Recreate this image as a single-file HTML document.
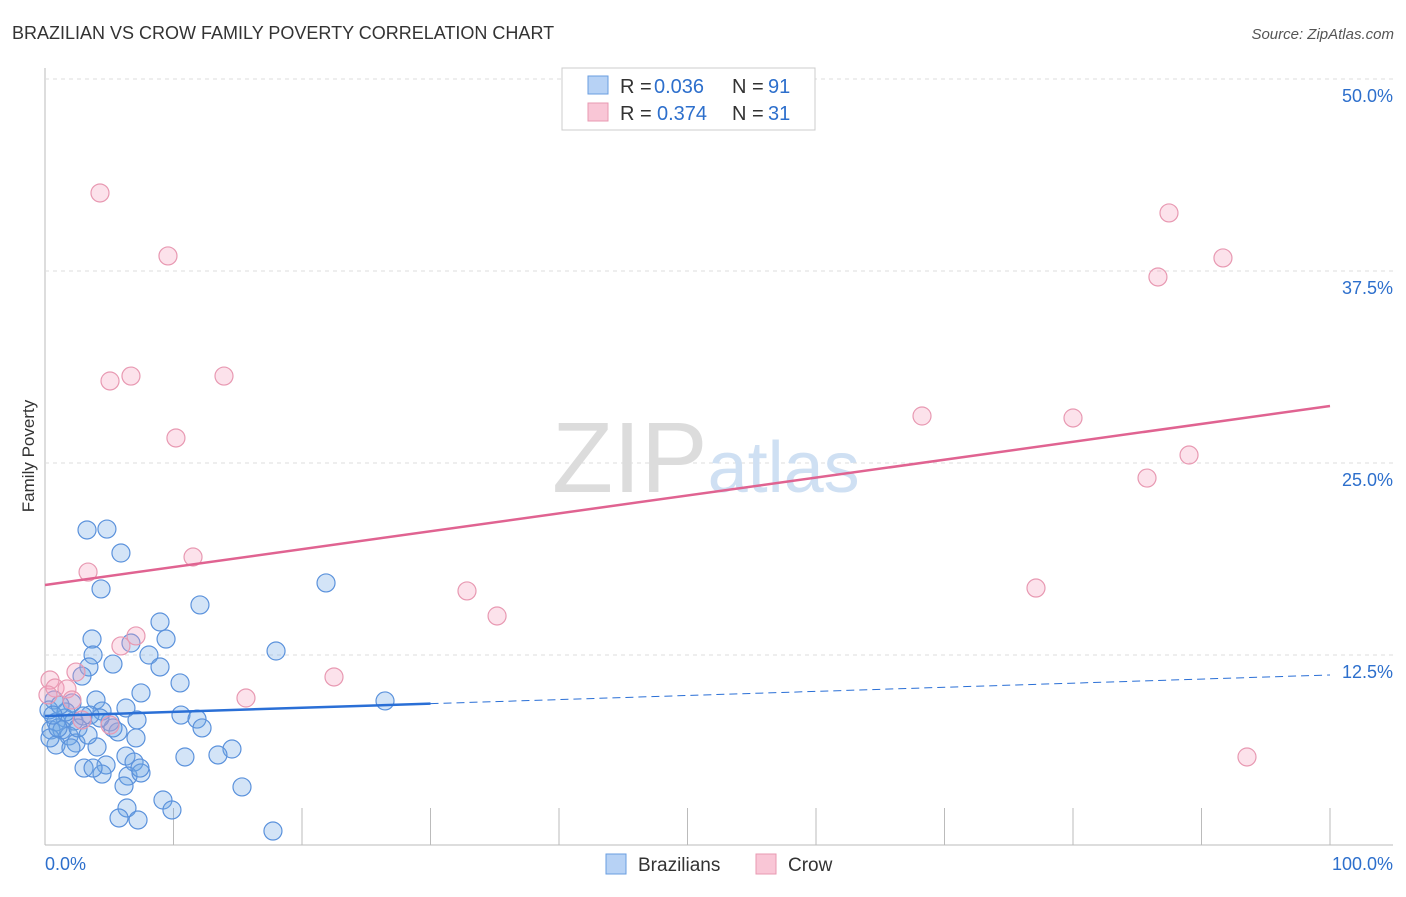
<!DOCTYPE html>
<html><head><meta charset="utf-8"><style>
body{margin:0;background:#fff;font-family:"Liberation Sans",sans-serif;}
svg text{font-family:"Liberation Sans",sans-serif;}
</style></head><body>
<svg width="1406" height="892" viewBox="0 0 1406 892">
<text x="12" y="39" font-size="18" fill="#333">BRAZILIAN VS CROW FAMILY POVERTY CORRELATION CHART</text>
<text x="1394" y="39" font-size="15" fill="#555" font-style="italic" text-anchor="end">Source: ZipAtlas.com</text>
<g id="grid"></g>
<text x="552" y="492" font-size="100" fill="#dcdcdc" font-family="Liberation Serif">ZIP<tspan fill="#cfe0f3" font-family="Liberation Sans" font-size="72">atlas</tspan></text>
<text x="34" y="456" font-size="17" fill="#333" text-anchor="middle" transform="rotate(-90 34 456)">Family Poverty</text>
<g id="marks"></g>
<g id="lines"></g>
<g>
<rect x="562" y="68" width="253" height="62" fill="#fff" stroke="#ccc"/>
<rect x="588" y="76" width="20" height="18" fill="#b7d2f5" stroke="#6a9ee0"/>
<rect x="588" y="103" width="20" height="18" fill="#f9c6d6" stroke="#e899b2"/>
<text x="620" y="93" font-size="20" fill="#333">R =</text>
<text x="654" y="93" font-size="20" fill="#2d6fcc">0.036</text>
<text x="732" y="93" font-size="20" fill="#333">N =</text>
<text x="768" y="93" font-size="20" fill="#2d6fcc">91</text>
<text x="620" y="120" font-size="20" fill="#333">R =</text>
<text x="657" y="120" font-size="20" fill="#2d6fcc">0.374</text>
<text x="732" y="120" font-size="20" fill="#333">N =</text>
<text x="768" y="120" font-size="20" fill="#2d6fcc">31</text>
</g>
<g>
<rect x="606" y="854" width="20" height="20" fill="#b7d2f5" stroke="#6a9ee0"/>
<text x="638" y="871" font-size="19" fill="#333">Brazilians</text>
<rect x="756" y="854" width="20" height="20" fill="#f9c6d6" stroke="#e899b2"/>
<text x="788" y="871" font-size="19" fill="#333">Crow</text>
</g>
</svg>
<script>
const yTicks=[12.5,25,37.5,50];
const yTickLabels=["12.5%","25.0%","37.5%","50.0%"];
const xLabels=["0.0%","100.0%"];
const braX=[3.27,4.82,5.91,4.36,21.87,12.06,8.95,3.66,9.42,6.69,3.74,8.09,17.98,3.42,5.29,8.95,2.88,10.51,7.47,26.46,3.97,2.10,0.70,6.30,4.44,10.58,11.83,3.50,1.56,0.86,7.16,5.06,2.26,2.96,0.47,1.32,5.68,12.22,1.87,7.08,0.86,2.41,4.05,14.55,6.30,10.89,13.46,6.93,3.04,4.75,4.44,6.46,7.47,3.74,6.15,15.33,9.18,9.88,6.38,5.76,7.24,17.74,0.31,0.39,1.01,1.63,2.57,3.35,2.02,5.29,4.28,7.39,1.17,0.62];
const braY=[20.64,20.70,19.14,16.80,17.19,15.76,14.65,13.54,13.54,13.28,12.50,12.50,12.76,11.72,11.91,11.72,11.13,10.68,10.03,9.51,9.57,9.38,9.57,9.05,8.85,8.59,8.33,8.59,8.40,8.14,8.27,8.14,8.20,8.53,7.62,7.62,7.49,7.75,7.23,7.10,6.64,6.77,6.51,6.38,5.92,5.86,5.99,5.53,5.14,5.34,4.75,4.62,4.82,5.14,3.97,3.91,3.06,2.41,2.54,1.89,1.76,1.04,8.92,7.10,7.75,8.79,7.75,7.29,6.45,7.75,8.40,5.14,9.24,8.59];
const crowX=[4.28,9.57,5.06,6.69,13.93,10.19,11.52,3.35,32.84,35.18,7.08,5.91,22.49,15.64,2.41,0.39,0.78,1.71,2.10,5.06,68.25,87.47,86.61,91.67,80.00,89.03,85.76,77.12,93.54,0.23,2.88];
const crowY=[42.58,38.48,30.34,30.66,30.66,26.63,18.88,17.90,16.67,15.04,13.74,13.09,11.07,9.70,11.39,10.87,10.35,10.29,9.57,7.94,28.06,41.28,37.11,38.35,27.93,25.52,24.02,16.86,5.86,9.90,8.27];
const braTrend=[8.53,11.2];
const crowTrend=[17.06,28.71];
const X=v=>45+v*12.85, Y=v=>847-v*15.36;
const NS="http://www.w3.org/2000/svg";
function mk(t,a,p){const e=document.createElementNS(NS,t);for(const k in a)e.setAttribute(k,a[k]);p.appendChild(e);return e;}
const grid=document.getElementById('grid');
mk('line',{x1:45,y1:68,x2:45,y2:845,stroke:'#bbb'},grid);
mk('line',{x1:45,y1:845,x2:1393,y2:845,stroke:'#bbb'},grid);
for(let i=0;i<=10;i++){const l=mk('line',{x1:X(i*10),y1:808,x2:X(i*10),y2:845,stroke:'#bbb'},grid);

}
yTicks.forEach((t,i)=>{const l=mk('line',{x1:45,y1:Y(t),x2:1393,y2:Y(t),stroke:'#ddd','stroke-dasharray':'4,4'},grid);


const tx=mk('text',{x:1393,y:Y(t)+23,'font-size':18,fill:'#2d6fcc','text-anchor':'end'},grid);tx.textContent=yTickLabels[i];

});
const a=mk('text',{x:45,y:870,'font-size':18,fill:'#2d6fcc'},grid);a.textContent=xLabels[0];


const b=mk('text',{x:1393,y:870,'font-size':18,fill:'#2d6fcc','text-anchor':'end'},grid);b.textContent=xLabels[1];


const marks=document.getElementById('marks');
braX.forEach((v,i)=>{const c=mk('circle',{cx:X(v),cy:Y(braY[i]),r:9,fill:'rgba(110,165,230,0.3)',stroke:'#5b92dc','stroke-width':1.2},marks);

});
crowX.forEach((v,i)=>{const c=mk('circle',{cx:X(v),cy:Y(crowY[i]),r:9,fill:'rgba(245,160,190,0.3)',stroke:'#e899b2','stroke-width':1.2},marks);

});
const lines=document.getElementById('lines');
const bt=v=>braTrend[0]+(braTrend[1]-braTrend[0])*v/100;
let l1=mk('line',{x1:X(0),y1:Y(bt(0)),x2:X(30),y2:Y(bt(30)),stroke:'#2a6fd6','stroke-width':2.5},lines);


let l2=mk('line',{x1:X(30),y1:Y(bt(30)),x2:X(100),y2:Y(bt(100)),stroke:'#2a6fd6','stroke-width':1,'stroke-dasharray':'8,5'},lines);


let l3=mk('line',{x1:X(0),y1:Y(crowTrend[0]),x2:X(100),y2:Y(crowTrend[1]),stroke:'#e06391','stroke-width':2.5},lines);


</script>
</body></html>
